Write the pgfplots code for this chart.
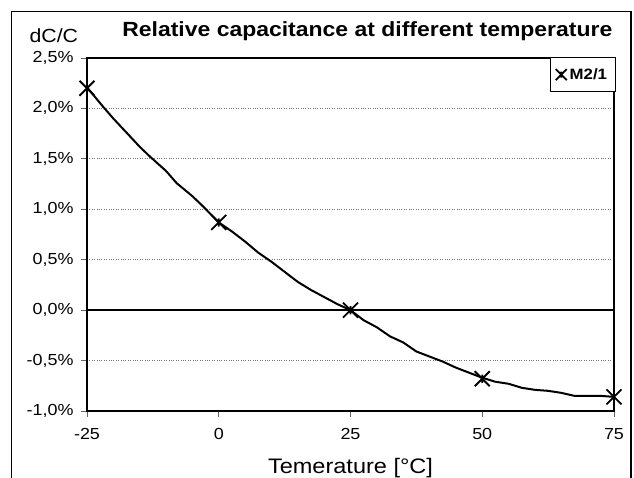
\documentclass[border=0pt]{standalone}
\usepackage{fontspec}
\setmainfont{Liberation Sans}[FakeStretch=1.12]
\usepackage{pgfplots}
\pgfplotsset{compat=1.18}

% Excel-style star marker: an x with a short vertical stroke
\pgfdeclareplotmark{xstar}{%
  \pgfpathmoveto{\pgfqpoint{-\pgfplotmarksize}{-\pgfplotmarksize}}%
  \pgfpathlineto{\pgfqpoint{\pgfplotmarksize}{\pgfplotmarksize}}%
  \pgfpathmoveto{\pgfqpoint{-\pgfplotmarksize}{\pgfplotmarksize}}%
  \pgfpathlineto{\pgfqpoint{\pgfplotmarksize}{-\pgfplotmarksize}}%
  \pgfpathmoveto{\pgfqpoint{0pt}{-.55\pgfplotmarksize}}%
  \pgfpathlineto{\pgfqpoint{0pt}{.55\pgfplotmarksize}}%
  \pgfusepathqstroke}

\begin{document}
\begin{tikzpicture}[x=1pt,y=1pt]
\useasboundingbox (0,0) rectangle (634,-477);
\draw[line width=1.2pt] (11.5,-11.5) rectangle (631,-495);
\begin{axis}[
    at={(87pt,-411pt)},
    anchor=south west,
    scale only axis,
    width=527pt,
    height=353pt,
    xmin=-25, xmax=75,
    ymin=-1, ymax=2.5,
    xtick={-25,0,25,50,75},
    xticklabels={-25,0,25,50,75},
    ytick={-1,-0.5,0,0.5,1,1.5,2,2.5},
    yticklabels={{-1,0\%},{-0,5\%},{0,0\%},{0,5\%},{1,0\%},{1,5\%},{2,0\%},{2,5\%}},
    xtick pos=bottom,
    ytick pos=left,
    tick align=outside,
    major tick length=6pt,
    tick style={black!60, line width=1pt},
    axis line style={line width=2.2pt},
    ymajorgrids,
    grid style={black!55, dotted, line width=0.9pt},
    extra y ticks={0},
    extra y tick labels={},
    extra y tick style={grid=major, major grid style={black, solid, line width=1.8pt}, major tick length=0pt},
    tick label style={font=\fontsize{16}{18}\selectfont},
    yticklabel style={xshift=-4pt},
    xticklabel style={yshift=-8pt},
    title={Relative capacitance at different temperature},
    title style={font=\fontsize{20.5}{22}\selectfont\bfseries, at={(0.532,1)}, anchor=base, yshift=16pt},
    xlabel={Temerature [°C]},
    xlabel style={font=\fontsize{21}{23}\selectfont, at={(0.5,0)}, anchor=base, yshift=-62pt},
    ylabel={dC/C},
    ylabel style={font=\fontsize{19}{21}\selectfont, rotate=-90, at={(-0.108,1)}, anchor=base west, yshift=16pt, xshift=-4pt},
    legend style={at={(1.003,1.003)}, anchor=north east, draw=black, line width=1pt, fill=white,
        font=\fontsize{15}{17}\selectfont\bfseries, inner xsep=5pt, inner ysep=9pt,
        legend cell align=left, nodes={inner xsep=3pt}},
    legend image post style={mark size=5.5pt, line width=1.6pt},
    clip=false,
]
% measured curve
\addplot[black, line width=2pt, forget plot] coordinates {
(-25,2.21) (-22,2.02) (-20,1.90) (-17.5,1.76) (-15,1.62) (-13,1.52)
(-10,1.38) (-8,1.26) (-5,1.13) (-3,1.03) (0,0.87) (2.5,0.78) (5,0.68)
(7.5,0.57) (10,0.48) (12.5,0.38) (15,0.28) (17.5,0.20) (20,0.13)
(22.5,0.06) (25,0.0) (27.5,-0.10) (30,-0.17) (32.5,-0.26) (35,-0.32)
(37.5,-0.41) (40,-0.46) (42.5,-0.51) (45,-0.57) (47.5,-0.62) (50,-0.67)
(52.5,-0.71) (55,-0.73) (57.5,-0.77) (60,-0.79) (62.5,-0.80) (65,-0.82)
(67.5,-0.85) (70,-0.85) (72.5,-0.85) (75,-0.86)};
% measurement points
\addplot[only marks, mark=xstar, mark size=7.5pt, black,
    mark options={line width=1.8pt}] coordinates {
(-25,2.20) (0,0.87) (25,0.0) (50,-0.68) (75,-0.86)};
\addlegendentry{M2/1}
\end{axis}
\end{tikzpicture}
\end{document}
